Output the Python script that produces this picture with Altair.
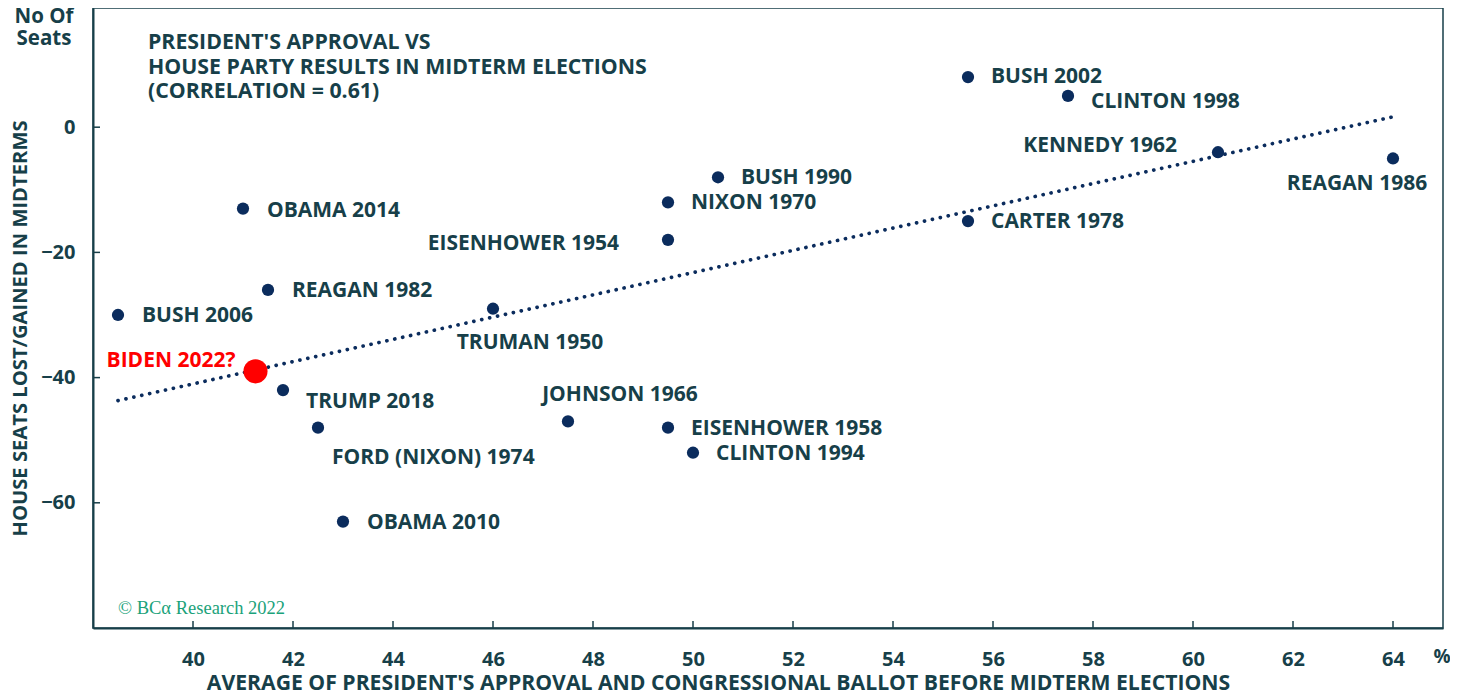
import altair as alt
import pandas as pd

# ---- data ----
presidents = ["BUSH 2002", "CLINTON 1998", "KENNEDY 1962", "REAGAN 1986", "CARTER 1978",
              "BUSH 1990", "NIXON 1970", "EISENHOWER 1954", "OBAMA 2014", "REAGAN 1982",
              "BUSH 2006", "TRUMAN 1950", "TRUMP 2018", "FORD (NIXON) 1974", "JOHNSON 1966",
              "EISENHOWER 1958", "CLINTON 1994", "OBAMA 2010"]
approval = [55.5, 57.5, 60.5, 64.0, 55.5, 50.5, 49.5, 49.5, 41.0, 41.5,
            38.5, 46.0, 41.8, 42.5, 47.5, 49.5, 50.0, 43.0]
seats = [8, 5, -4, -5, -15, -8, -12, -18, -13, -26,
         -30, -29, -42, -48, -47, -48, -52, -63]

biden_label = "BIDEN 2022?"
biden_approval = 41.25
biden_seats = -39

x_ticks = [40, 42, 44, 46, 48, 50, 52, 54, 56, 58, 60, 62, 64]
y_ticks = [-60, -40, -20, 0]

# label placement (pixel offsets from the point, and text alignment)
label_dx = [23, 23, -41, -36, 23, 23, 23, -49, 24, 24, 24, 37, 23, 14, 52, 23, 23, 24]
label_dy = [0, 6, -6, 26, 1, 1, 1, 4, 2, 1, 1, 34, 12, 30, -26, 1, 1, 1]
label_align = ["left", "left", "right", "center", "left", "left", "left", "right", "left", "left",
               "left", "center", "left", "left", "center", "left", "left", "left"]
biden_dx, biden_dy, biden_align = -20, -10, "right"

# ---- styling ----
TEXT = "#173f49"
NAVY = "#0b2c5d"
RED = "#ff0000"
GREEN = "#1aa27a"
FONT = "Open Sans"
W, H = 1350, 620
XD = [38, 65]
YD = [-80, 19.04]
PX_PER_X = W / (XD[1] - XD[0])
PX_PER_Y = H / (YD[1] - YD[0])

pts = pd.DataFrame({"name": presidents, "approval": approval, "seats": seats})
labels = pd.DataFrame({
    "name": presidents + [biden_label],
    "approval": approval + [biden_approval],
    "seats": seats + [biden_seats],
    "dx": label_dx + [biden_dx],
    "dy": label_dy + [biden_dy],
    "align": label_align + [biden_align],
    "tc": [TEXT] * len(presidents) + [RED],
})
biden = pd.DataFrame({"name": [biden_label], "approval": [biden_approval], "seats": [biden_seats]})
yt = pd.DataFrame({"v": y_ticks})
xt = pd.DataFrame({"v": x_ticks})
one = pd.DataFrame({"a": [0]})

xscale = alt.Scale(domain=XD, nice=False, zero=False)
yscale = alt.Scale(domain=YD, nice=False, zero=False)

X = alt.X("approval:Q", scale=xscale,
          axis=alt.Axis(values=x_ticks, format="d", ticks=False, grid=False, labelPadding=21,
                        title="AVERAGE OF PRESIDENT'S APPROVAL AND CONGRESSIONAL BALLOT BEFORE MIDTERM ELECTIONS",
                        titleX=625, titleY=55, titleAlign="center", titleBaseline="middle",
                        titleFontSize=21.2))
Y = alt.Y("seats:Q", scale=yscale,
          axis=alt.Axis(values=y_ticks, format="d", ticks=False, grid=False, labelPadding=18,
                        title="HOUSE SEATS LOST/GAINED IN MIDTERMS",
                        titleX=-73, titleY=320, titleAngle=270, titleAlign="center",
                        titleBaseline="middle", titleFontSize=20.2))

trend = alt.Chart(pts).transform_regression(
    "approval", "seats", extent=[38.5, 64]
).mark_line(strokeDash=[0.1, 8], strokeCap="round", strokeWidth=3.7, color=NAVY).encode(x=X, y=Y)

points = alt.Chart(pts).mark_circle(size=150, color=NAVY, opacity=1).encode(
    x=alt.X("approval:Q", scale=xscale), y=alt.Y("seats:Q", scale=yscale))
bpoint = alt.Chart(biden).mark_circle(size=580, color=RED, opacity=1).encode(
    x=alt.X("approval:Q", scale=xscale), y=alt.Y("seats:Q", scale=yscale))

label_layers = []
for al in ["left", "right", "center"]:
    label_layers.append(
        alt.Chart(labels).transform_filter(alt.datum.align == al).transform_calculate(
            lx=f"datum.approval + datum.dx / {PX_PER_X}",
            ly=f"datum.seats - datum.dy / {PX_PER_Y}",
        ).mark_text(align=al, baseline="middle", font=FONT, fontSize=21, fontWeight="bold").encode(
            x=alt.X("lx:Q", scale=xscale), y=alt.Y("ly:Q", scale=yscale),
            text="name:N", color=alt.Color("tc:N", scale=None))
    )

ytick = alt.Chart(yt).mark_rule(color=TEXT, strokeWidth=1.5).encode(
    y=alt.Y("v:Q", scale=yscale), x=alt.value(0), x2=alt.value(7))
xtick = alt.Chart(xt).mark_rule(color=TEXT, strokeWidth=1.5).encode(
    x=alt.X("v:Q", scale=xscale), y=alt.value(H), y2=alt.value(H - 7))

title_block = alt.Chart(one).mark_text(
    text=["PRESIDENT'S APPROVAL VS", "HOUSE PARTY RESULTS IN MIDTERM ELECTIONS", "(CORRELATION = 0.61)"],
    align="left", baseline="middle", lineHeight=24.5, font=FONT, fontSize=21.3, fontWeight="bold", color=TEXT
).encode(x=alt.value(55), y=alt.value(35))

seats_lbl = alt.Chart(one).mark_text(
    text=["No Of", "Seats"], align="center", baseline="middle", lineHeight=22,
    font=FONT, fontSize=20.5, fontWeight="bold", color=TEXT
).encode(x=alt.value(-49), y=alt.value(9))

pct = alt.Chart(one).mark_text(
    text="%", align="center", baseline="middle", font=FONT, fontSize=19, fontWeight="bold", color=TEXT
).encode(x=alt.value(1349), y=alt.value(H + 29))

copyright_txt = alt.Chart(one).mark_text(
    text="© BCα Research 2022", align="left", baseline="middle", font="Liberation Serif",
    fontSize=18.5, color=GREEN
).encode(x=alt.value(25), y=alt.value(H - 20))

chart = alt.layer(
    trend, points, bpoint, *label_layers, ytick, xtick, title_block, seats_lbl, pct, copyright_txt
).properties(
    width=W, height=H,
    autosize=alt.AutoSizeParams(type="none"),
    padding={"left": 85, "top": 0, "right": 7, "bottom": 64},
).configure_axis(
    domainColor=TEXT, domainWidth=2,
    labelFont=FONT, labelFontSize=20, labelFontWeight="bold", labelColor=TEXT,
    titleFont=FONT, titleFontWeight="bold", titleColor=TEXT,
).configure_view(stroke=TEXT, strokeWidth=1.5)

chart.save("out.html", embed_options={"renderer": "svg", "actions": False})
